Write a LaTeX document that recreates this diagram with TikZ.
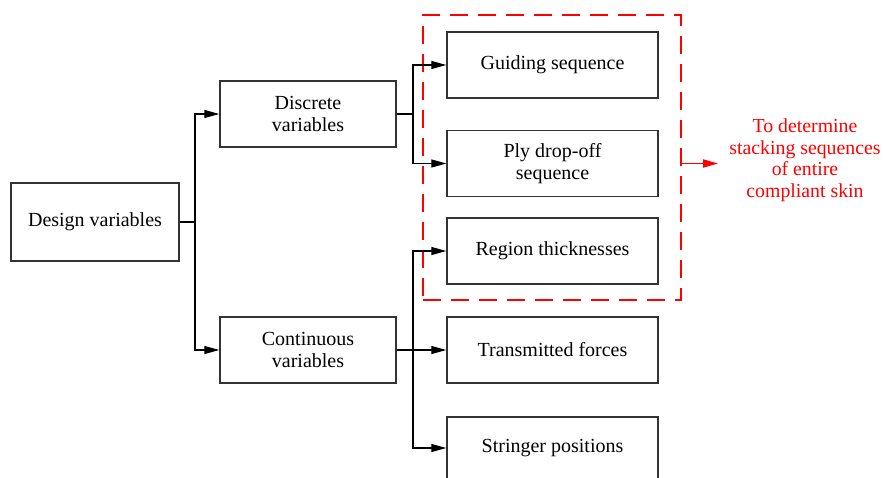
\documentclass[tikz,border=0pt]{standalone}
\usepackage{fontspec}
\setmainfont{Liberation Serif}
\usetikzlibrary{arrows.meta}
\begin{document}
\begin{tikzpicture}[x=1pt,y=-1pt,
  box/.style={draw=black!80,line width=1.4pt,rectangle,align=center,inner sep=0pt,
    font=\fontsize{20}{22.5}\selectfont},
  line/.style={draw=black,line width=1.3pt},
  arr/.style={line,-{Triangle[length=15pt,width=8pt]}},
  redbox/.style={draw=red,line width=2.4pt,dash pattern=on 18pt off 10pt,inner sep=0pt},
  redarr/.style={draw=red,line width=1.8pt,-{Triangle[length=15pt,width=8pt]}},
  note/.style={text=red,align=center,inner sep=0pt,font=\fontsize{19.8}{21.5}\selectfont}]
\useasboundingbox (0,0) rectangle (883,478);
\fill[white] (0,0) rectangle (883,478);
% nodes
\node[box,minimum width=168pt,minimum height=78pt] (design) at (95,222) {Design variables};
\node[box,minimum width=176pt,minimum height=66pt] (discrete) at (308,114) {Discrete\\variables};
\node[box,minimum width=176pt,minimum height=66pt] (continuous) at (308,350) {Continuous\\variables};
\node[box,minimum width=211pt,minimum height=66pt] (guiding) at (552.5,65) {Guiding sequence};
\node[box,minimum width=211pt,minimum height=66pt] (ply) at (552.5,163.5) {Ply drop-off\\sequence};
\node[box,minimum width=211pt,minimum height=66pt] (region) at (552.5,251) {Region thicknesses};
\node[box,minimum width=211pt,minimum height=66pt] (transmitted) at (552.5,350) {Transmitted forces};
\node[box,minimum width=211pt,minimum height=62pt] (stringer) at (552.5,448) {Stringer positions};
\node[redbox,minimum width=258pt,minimum height=285pt] (group) at (552,157.5) {};
\node[note] (goal) at (805,160) {To determine\\stacking sequences\\of entire\\compliant skin};
% connectors
\coordinate (s1) at (195,222);
\draw[line] (design.east) -- (s1);
\draw[arr] (s1) |- (discrete.west);
\draw[arr] (s1) |- (continuous.west);
\coordinate (s2) at (413,114);
\draw[line] (discrete.east) -- (s2);
\draw[arr] (s2) |- (guiding.west);
\draw[arr] (s2) |- (ply.west);
\draw[arr] (continuous.east) -- (transmitted.west);
\coordinate (s3) at (413,350);
\draw[arr] (s3) |- (region.west);
\draw[arr] (s3) |- (stringer.west);
\coordinate (rt) at (718,163.5);
\draw[redarr] (group.east |- rt) -- (rt);
\end{tikzpicture}
\end{document}
